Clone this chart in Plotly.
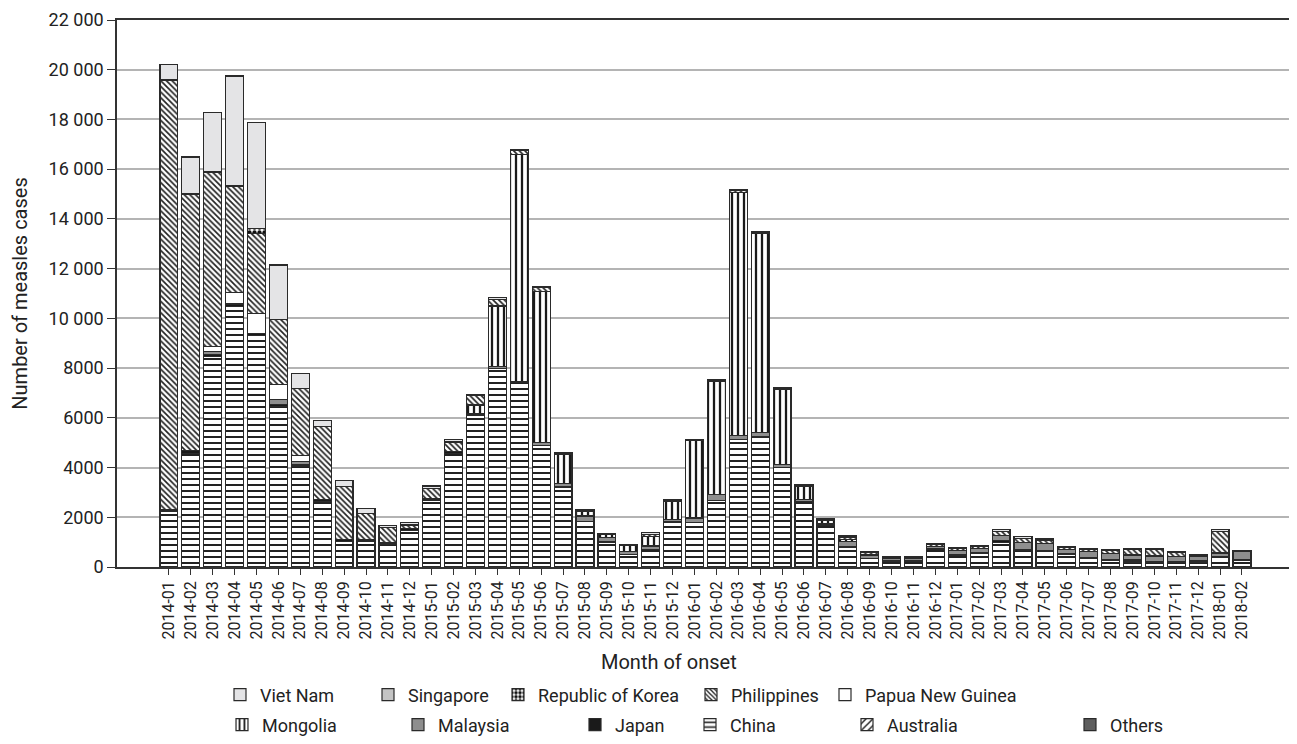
import plotly.graph_objects as go

months = ["2014-01","2014-02","2014-03","2014-04","2014-05","2014-06","2014-07","2014-08","2014-09","2014-10","2014-11","2014-12",
          "2015-01","2015-02","2015-03","2015-04","2015-05","2015-06","2015-07","2015-08","2015-09","2015-10","2015-11","2015-12",
          "2016-01","2016-02","2016-03","2016-04","2016-05","2016-06","2016-07","2016-08","2016-09","2016-10","2016-11","2016-12",
          "2017-01","2017-02","2017-03","2017-04","2017-05","2017-06","2017-07","2017-08","2017-09","2017-10","2017-11","2017-12",
          "2018-01","2018-02"]

others = [15,15,15,15,15,10,10,0,0,0,0,0, 0,0,0,0,0,0,0,0,0,0,0,0, 0,0,0,0,0,0,0,0,0,0,0,0, 0,0,0,0,0,0,0,0,0,0,0,0, 0,0]
australia = [20,20,15,15,15,10,10,5,0,0,0,0, 0,0,0,20,20,20,15,15,10,10,10,10, 10,10,15,15,10,10,20,0,20,0,0,0, 0,0,0,0,0,0,0,0,0,0,0,0, 0,0]
china = [2195,4545,8430,10440,9270,6420,4010,2640,1020,1020,925,1480,
         2695,4570,6085,7975,7390,4867,3205,1820,993,480,710,1797,
         1780,2667,5108,5216,3995,2614,1650,800,330,220,230,700,
         480,560,1000,650,620,500,330,260,200,180,200,180,
         380,250]
japan = [60,110,80,110,100,100,70,80,95,65,70,75,
         65,65,70,0,0,0,0,0,0,0,0,0,
         0,0,0,0,0,0,0,40,0,40,40,40,
         30,30,60,40,35,30,30,30,80,40,25,60,
         40,30]
malaysia = [0,0,120,0,0,200,135,0,0,0,0,0,
            0,0,0,60,60,113,145,215,190,120,125,111,
            180,231,157,170,124,99,60,190,100,80,90,90,
            150,160,200,290,300,160,250,250,200,220,200,200,
            140,330]
mongolia = [0,0,0,0,0,0,0,0,0,0,0,0,
            0,0,360,2440,9130,6073,1155,175,110,240,375,720,
            3110,4550,9790,8010,3010,500,150,80,50,0,0,0,
            0,0,0,0,0,0,0,0,0,0,0,0,
            0,0]
png = [0,0,200,470,800,615,255,0,0,0,0,0, 0,0,0,0,0,0,0,0,0,0,0,0, 0,0,0,0,0,0,0,0,0,0,0,0, 0,0,0,0,0,0,0,0,0,0,0,0, 0,0]
philippines = [17300,10300,7010,4250,3220,2600,2680,2910,2130,1075,600,135,
               390,390,385,265,150,160,50,50,30,20,100,35,
               35,40,60,50,45,45,45,90,70,40,45,70,
               80,90,170,180,120,100,110,140,220,280,150,0,
               870,0]
korea = [0,30,0,40,180,0,0,0,0,0,0,0, 0,0,0,0,0,0,0,0,0,0,0,0, 0,0,0,0,0,0,0,0,0,0,0,0, 0,0,0,0,0,0,0,0,0,0,0,0, 0,0]
singapore = [0,0,30,0,0,0,0,0,0,0,0,0, 0,0,0,0,0,0,0,0,0,0,0,0, 0,0,0,0,0,0,0,0,0,0,0,0, 0,0,0,0,0,0,0,0,0,0,0,0, 0,0]
vietnam = [610,1470,2380,4410,4290,2190,605,270,225,185,80,90,
           110,105,45,70,40,45,40,30,22,15,60,22,
           21,22,33,25,28,30,35,50,40,20,25,40,
           40,40,70,60,50,40,40,40,35,40,40,40,
           70,45]

ytick_vals = [0,2000,4000,6000,8000,10000,12000,14000,16000,18000,20000,22000]
ytick_text = ["0","2000","4000","6000","8000","10 000","12 000","14 000","16 000","18 000","20 000","22 000"]

FONT = "Roboto, 'Liberation Sans', sans-serif"
LINE = dict(color="#2a2a2a", width=1.2)

# (name, values, color, pattern, legend key, legend box page-x, legend row)
series = [
    ("Others", others, "#5e5e5e", None, "legend11", 1083, 2),
    ("Australia", australia, "white", dict(shape="/", fgcolor="#222", fgopacity=1, bgcolor="white", size=6, solidity=0.3), "legend10", 860, 2),
    ("China", china, "white", dict(shape="-", fgcolor="#222", fgopacity=1, bgcolor="white", size=6, solidity=0.34), "legend9", 703, 2),
    ("Japan", japan, "#1a1a1a", None, "legend8", 588, 2),
    ("Malaysia", malaysia, "#8e8e8e", None, "legend7", 411, 2),
    ("Mongolia", mongolia, "white", dict(shape="|", fgcolor="#1a1a1a", fgopacity=1, bgcolor="white", size=6, solidity=0.38), "legend6", 235, 2),
    ("Papua New Guinea", png, "white", None, "legend5", 838, 1),
    ("Philippines", philippines, "white", dict(shape="\\", fgcolor="#222", fgopacity=1, bgcolor="white", size=4, solidity=0.42), "legend4", 704, 1),
    ("Republic of Korea", korea, "white", dict(shape=".", fgcolor="#111", fgopacity=1, bgcolor="white", size=5, solidity=0.6), "legend3", 511, 1),
    ("Singapore", singapore, "#c4c4c4", None, "legend2", 381, 1),
    ("Viet Nam", vietnam, "#e4e4e6", None, "legend", 233, 1),
]

# page body has an 8px margin: figure coordinates = page coordinates - 8
OFF = 8
W, H = 1297 - OFF, 744 - OFF
PL, PT = 117 - OFF, 20 - OFF
PR = W - (1293 - OFF)
PB = H - (567 - OFF)
pw = W - PL - PR
ph = H - PT - PB

fig = go.Figure()
legends = {}
for name, vals, color, pat, lg, lx, row in series:
    marker = dict(color=color, line=LINE)
    if pat:
        marker["pattern"] = pat
    fig.add_trace(go.Bar(x=months, y=vals, name=name, marker=marker, legend=lg, showlegend=True))
    ypx = (695 if row == 1 else 725) - OFF
    left = lx - 13 - OFF
    legends[lg] = dict(
        x=(left - PL) / pw, y=(H - PB - ypx) / ph,
        xanchor="left", yanchor="middle", orientation="h",
        bgcolor="rgba(0,0,0,0)", font=dict(family=FONT, size=18, color="#222"),
    )

fig.update_layout(
    width=W, height=H,
    margin=dict(l=PL, r=PR, t=PT, b=PB, autoexpand=False),
    barmode="stack", bargap=0.18,
    showlegend=True,
    plot_bgcolor="white", paper_bgcolor="white",
    font=dict(family=FONT, color="#222"),
    **legends,
)
fig.add_annotation(
    text="Month of onset", xref="paper", yref="paper",
    x=(669 - OFF - PL) / pw, y=(H - PB - (662 - OFF)) / ph,
    xanchor="center", yanchor="middle", showarrow=False,
    font=dict(family=FONT, size=20, color="#222"),
)
fig.update_xaxes(
    type="category", range=[-2.37, 51.33], automargin=False,
    tickangle=-90, tickfont=dict(size=16, color="#222"),
    ticks="outside", ticklen=6, tickcolor="#333",
    showline=True, linecolor="#333", linewidth=1.5, mirror=True,
    showgrid=False,
)
fig.update_yaxes(
    range=[0, 22000], tickvals=ytick_vals, ticktext=ytick_text, automargin=False,
    tickfont=dict(size=18, color="#222"),
    ticks="outside", ticklen=8, tickcolor="#333",
    showline=True, linecolor="#333", linewidth=1.5, mirror=True,
    showgrid=True, gridcolor="#b4b4b4", gridwidth=1.5,
    zeroline=False,
    title=dict(text="Number of measles cases", font=dict(size=20, color="#222"), standoff=20),
)

fig.write_html("out.html")
